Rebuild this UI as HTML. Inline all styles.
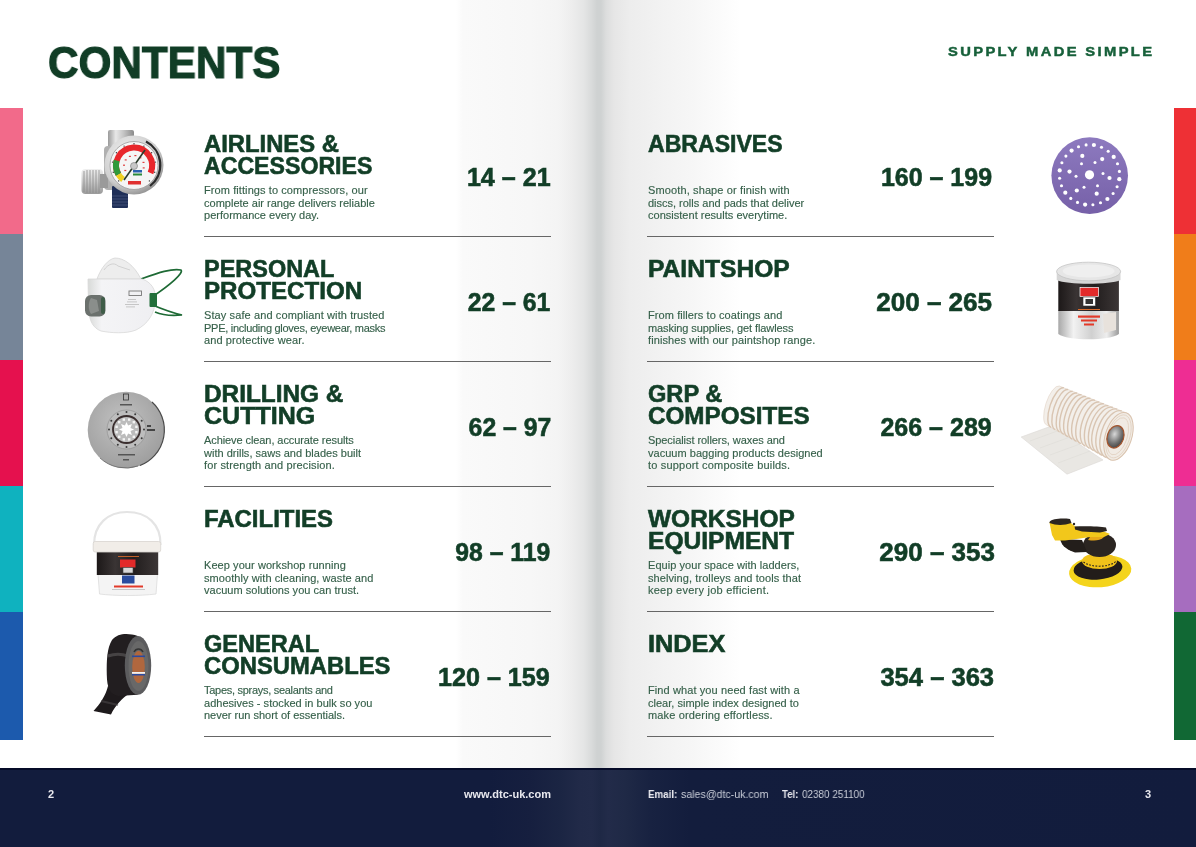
<!DOCTYPE html>
<html><head><meta charset="utf-8"><title>Contents</title>
<style>
*{margin:0;padding:0;box-sizing:border-box}
html,body{width:1196px;height:847px;overflow:hidden;background:#fff}
body{position:relative;font-family:"Liberation Sans",sans-serif;color:#123e27}
.spine{position:absolute;left:0;top:0;width:1196px;height:768px;background:linear-gradient(90deg,#fff 0,#fff 456px,#fafafa 463px,#f7f7f7 530px,#f4f4f4 558px,#ededed 572px,#e4e5e5 584px,#d8dada 592px,#cfd2d2 597px,#cfd2d2 601px,#dcdddd 606px,#e6e6e6 614px,#ededed 630px,#f1f1f1 655px,#f6f6f6 690px,#fbfbfb 720px,#fff 740px)}
.bar{position:absolute;width:23px}
.L{left:0}.R{left:1174px;width:22px}
h1{position:absolute;left:48px;top:38px;font-size:45px;font-weight:700;color:#113d26;letter-spacing:0;line-height:50px;transform:scaleX(.939);transform-origin:0 0;white-space:nowrap}
.tag{position:absolute;left:948px;top:44px;font-size:12.8px;font-weight:700;color:#17603a;letter-spacing:2.07px;transform:scaleX(1.15);transform-origin:0 0;line-height:15px;white-space:nowrap}
.row{position:absolute;width:347px;height:125px}
.h{position:absolute;left:0;top:1.5px;font-size:23.3px;font-weight:700;color:#123e27;line-height:22.8px;white-space:nowrap}
.d{position:absolute;left:0;top:53px;font-size:11px;color:#36604a;line-height:12.6px;letter-spacing:0.05px;white-space:nowrap}
.n{position:absolute;right:0;top:32px;font-size:25.4px;font-weight:700;color:#123e27;line-height:28px;white-space:nowrap}
.hl{white-space:nowrap;transform-origin:0 0}
.dl{white-space:nowrap}
.d{-webkit-text-stroke:.15px #36604a}
.n{transform-origin:100% 0}
.sep{position:absolute;left:0;right:0;top:105px;height:1px;background:#666}
.rr .sep{left:-1px;right:1.5px}
.foot{z-index:2;position:absolute;left:0;top:768px;width:1196px;height:79px;background:linear-gradient(90deg,#121c3d 0,#121c3d 490px,#161f3f 530px,#1b2543 560px,#212a48 580px,#222b49 592px,#1e2845 600px,#222b49 608px,#1f2946 625px,#182241 650px,#131d3d 690px,#121c3d 100%)}
.foot:before{content:"";position:absolute;left:0;top:0;width:100%;height:2px;background:#050b28}
.ft{position:absolute;top:19.8px;font-size:11px;color:#e8e8ee;line-height:12px;white-space:nowrap}
.ft b{font-weight:700}
.ft.g{color:#c9cdd8}
.img{position:absolute}
.row,h1,.tag,.ft{will-change:transform}
h1{-webkit-text-stroke:1.2px #113d26}
.h,.n{-webkit-text-stroke:.6px #123e27}
.tag{-webkit-text-stroke:.45px #17603a}
</style></head><body>
<div class="spine"></div>

<div class="bar L" style="top:108px;height:127px;background:#f26a8a"></div>
<div class="bar L" style="top:234px;height:127px;background:#768598"></div>
<div class="bar L" style="top:360px;height:127px;background:#e5114e"></div>
<div class="bar L" style="top:486px;height:127px;background:#0fb2bf"></div>
<div class="bar L" style="top:612px;height:128px;background:#1c5aad"></div>

<div class="bar R" style="top:108px;height:127px;background:#ee3035"></div>
<div class="bar R" style="top:234px;height:127px;background:#f07d1a"></div>
<div class="bar R" style="top:360px;height:127px;background:#ee2d93"></div>
<div class="bar R" style="top:486px;height:127px;background:#a66dbf"></div>
<div class="bar R" style="top:612px;height:128px;background:#116834"></div>

<h1>CONTENTS</h1>
<div class="tag">SUPPLY MADE SIMPLE</div>

<!-- LEFT COLUMN -->
<div class="row" style="left:204px;top:131px">
 <div class="h"><div class="hl" id="L0h0" style="transform:scaleX(1.0220)">AIRLINES &amp;</div><div class="hl" id="L0h1" style="transform:scaleX(0.9929)">ACCESSORIES</div></div>
 <div class="d"><div class="dl" id="L0d0" style="letter-spacing:0.087px">From fittings to compressors, our</div><div class="dl" id="L0d1" style="letter-spacing:0.007px">complete air range delivers reliable</div><div class="dl" id="L0d2" style="letter-spacing:0.017px">performance every day.</div></div>
 <div class="n" id="L0n" style="transform:translateX(-0.09px) scaleX(0.9883)">14 – 21</div><div class="sep"></div>
</div>
<div class="row" style="left:204px;top:256px">
 <div class="h"><div class="hl" id="L1h0" style="transform:scaleX(1.0070)">PERSONAL</div><div class="hl" id="L1h1" style="transform:scaleX(1.0352)">PROTECTION</div></div>
 <div class="d"><div class="dl" id="L1d0" style="letter-spacing:0.107px">Stay safe and compliant with trusted</div><div class="dl" id="L1d1" style="letter-spacing:-0.273px">PPE, including gloves, eyewear, masks</div><div class="dl" id="L1d2" style="letter-spacing:0.107px">and protective wear.</div></div>
 <div class="n" id="L1n" style="transform:translateX(-0.40px) scaleX(0.9739)">22 – 61</div><div class="sep"></div>
</div>
<div class="row" style="left:204px;top:381px">
 <div class="h"><div class="hl" id="L2h0" style="transform:scaleX(1.0462)">DRILLING &amp;</div><div class="hl" id="L2h1" style="transform:scaleX(1.0746)">CUTTING</div></div>
 <div class="d"><div class="dl" id="L2d0" style="letter-spacing:-0.083px">Achieve clean, accurate results</div><div class="dl" id="L2d1" style="letter-spacing:0.014px">with drills, saws and blades built</div><div class="dl" id="L2d2" style="letter-spacing:0.142px">for strength and precision.</div></div>
 <div class="n" id="L2n" style="transform:translateX(0.58px) scaleX(0.9759)">62 – 97</div><div class="sep"></div>
</div>
<div class="row" style="left:204px;top:506px">
 <div class="h"><div class="hl" id="L3h0" style="transform:scaleX(1.0275)">FACILITIES</div></div>
 <div class="d"><div class="dl" id="L3d0" style="letter-spacing:0.070px">Keep your workshop running</div><div class="dl" id="L3d1" style="letter-spacing:0.076px">smoothly with cleaning, waste and</div><div class="dl" id="L3d2" style="letter-spacing:0.033px">vacuum solutions you can trust.</div></div>
 <div class="n" id="L3n" style="transform:translateX(-1.13px) scaleX(0.9750)">98 – 119</div><div class="sep"></div>
</div>
<div class="row" style="left:204px;top:631px">
 <div class="h"><div class="hl" id="L4h0" style="transform:scaleX(1.0107)">GENERAL</div><div class="hl" id="L4h1" style="transform:scaleX(1.0216)">CONSUMABLES</div></div>
 <div class="d"><div class="dl" id="L4d0" style="letter-spacing:-0.284px">Tapes, sprays, sealants and</div><div class="dl" id="L4d1" style="letter-spacing:0.026px">adhesives - stocked in bulk so you</div><div class="dl" id="L4d2" style="letter-spacing:-0.005px">never run short of essentials.</div></div>
 <div class="n" id="L4n" style="transform:translateX(-1.10px) scaleX(0.9911)">120 – 159</div><div class="sep"></div>
</div>
<div class="row rr" style="left:648px;top:131px">
 <div class="h"><div class="hl" id="R0h0" style="transform:scaleX(0.9905)">ABRASIVES</div></div>
 <div class="d"><div class="dl" id="R0d0" style="letter-spacing:0.124px">Smooth, shape or finish with</div><div class="dl" id="R0d1" style="letter-spacing:-0.010px">discs, rolls and pads that deliver</div><div class="dl" id="R0d2" style="letter-spacing:0.018px">consistent results everytime.</div></div>
 <div class="n" id="R0n" style="transform:translateX(-2.91px) scaleX(0.9838)">160 – 199</div><div class="sep"></div>
</div>
<div class="row rr" style="left:648px;top:256px">
 <div class="h"><div class="hl" id="R1h0" style="transform:scaleX(1.0564)">PAINTSHOP</div></div>
 <div class="d"><div class="dl" id="R1d0" style="letter-spacing:0.083px">From fillers to coatings and</div><div class="dl" id="R1d1" style="letter-spacing:-0.087px">masking supplies, get flawless</div><div class="dl" id="R1d2" style="letter-spacing:0.102px">finishes with our paintshop range.</div></div>
 <div class="n" id="R1n" style="transform:translateX(-2.86px) scaleX(1.0262)">200 – 265</div><div class="sep"></div>
</div>
<div class="row rr" style="left:648px;top:381px">
 <div class="h"><div class="hl" id="R2h0" style="transform:scaleX(1.0139)">GRP &amp;</div><div class="hl" id="R2h1" style="transform:scaleX(1.0403)">COMPOSITES</div></div>
 <div class="d"><div class="dl" id="R2d0" style="letter-spacing:-0.068px">Specialist rollers, waxes and</div><div class="dl" id="R2d1" style="letter-spacing:0.034px">vacuum bagging products designed</div><div class="dl" id="R2d2" style="letter-spacing:0.190px">to support composite builds.</div></div>
 <div class="n" id="R2n" style="transform:translateX(-3.21px) scaleX(0.9857)">266 – 289</div><div class="sep"></div>
</div>
<div class="row rr" style="left:648px;top:506px">
 <div class="h"><div class="hl" id="R3h0" style="transform:scaleX(1.0511)">WORKSHOP</div><div class="hl" id="R3h1" style="transform:scaleX(1.0552)">EQUIPMENT</div></div>
 <div class="d"><div class="dl" id="R3d0" style="letter-spacing:0.050px">Equip your space with ladders,</div><div class="dl" id="R3d1" style="letter-spacing:0.082px">shelving, trolleys and tools that</div><div class="dl" id="R3d2" style="letter-spacing:0.237px">keep every job efficient.</div></div>
 <div class="n" id="R3n" style="transform:translateX(0.03px) scaleX(1.0243)">290 – 353</div><div class="sep"></div>
</div>
<div class="row rr" style="left:648px;top:631px">
 <div class="h"><div class="hl" id="R4h0" style="transform:scaleX(1.0857)">INDEX</div></div>
 <div class="d"><div class="dl" id="R4d0" style="letter-spacing:0.101px">Find what you need fast with a</div><div class="dl" id="R4d1" style="letter-spacing:0.017px">clear, simple index designed to</div><div class="dl" id="R4d2" style="letter-spacing:0.154px">make ordering effortless.</div></div>
 <div class="n" id="R4n" style="transform:translateX(-0.89px) scaleX(1.0062)">354 – 363</div><div class="sep"></div>
</div>
<!-- IMAGES -->
<svg class="img" style="left:0;top:0" width="1196" height="768" viewBox="0 0 1196 768">
<defs>
 <linearGradient id="chrome" x1="0" y1="0" x2="1" y2="0">
  <stop offset="0" stop-color="#9a9a9a"/><stop offset=".3" stop-color="#e8e8e8"/><stop offset=".6" stop-color="#c4c4c4"/><stop offset="1" stop-color="#8a8a8a"/>
 </linearGradient>
 <linearGradient id="chromeV" x1="0" y1="0" x2="0" y2="1">
  <stop offset="0" stop-color="#f0f0f0"/><stop offset=".5" stop-color="#c8c8c8"/><stop offset="1" stop-color="#9a9a9a"/>
 </linearGradient>
 <radialGradient id="bezel" cx=".4" cy=".35" r=".7">
  <stop offset="0" stop-color="#f4f4f4"/><stop offset=".7" stop-color="#cfcfcf"/><stop offset="1" stop-color="#8c8c8c"/>
 </radialGradient>
 <radialGradient id="blade" cx=".45" cy=".4" r=".65">
  <stop offset="0" stop-color="#c2c2c2"/><stop offset="1" stop-color="#9c9c9c"/>
 </radialGradient>
 <linearGradient id="purp" x1="0" y1="0" x2="0" y2="1">
  <stop offset="0" stop-color="#8d7abf"/><stop offset="1" stop-color="#7660a8"/>
 </linearGradient>
 <linearGradient id="silver" x1="0" y1="0" x2="1" y2="0">
  <stop offset="0" stop-color="#a8a8a8"/><stop offset=".25" stop-color="#f2f2f2"/><stop offset=".55" stop-color="#d0d0d0"/><stop offset=".8" stop-color="#eeeeee"/><stop offset="1" stop-color="#9a9a9a"/>
 </linearGradient>
 <linearGradient id="blackband" x1="0" y1="0" x2="1" y2="0">
  <stop offset="0" stop-color="#1c1818"/><stop offset=".3" stop-color="#3a3434"/><stop offset=".6" stop-color="#221e1e"/><stop offset="1" stop-color="#3c3636"/>
 </linearGradient>
 <linearGradient id="maskg" x1="0" y1="0" x2="1" y2="0">
  <stop offset="0" stop-color="#d8dad8"/><stop offset=".2" stop-color="#f4f4f6"/><stop offset="1" stop-color="#efeff2"/>
 </linearGradient>
 <radialGradient id="hole" cx=".4" cy=".4" r=".7">
  <stop offset="0" stop-color="#d8d8d8"/><stop offset=".6" stop-color="#707070"/><stop offset="1" stop-color="#3a3a3a"/>
 </radialGradient>
</defs>

<!-- 1 gauge -->
<g>
 <rect x="108" y="130" width="26" height="20" rx="2" fill="url(#chrome)"/>
 <rect x="104" y="146" width="36" height="44" rx="4" fill="#b0b0b0"/>
 <rect x="81.5" y="169" width="21.5" height="25" rx="4" fill="url(#chromeV)"/>
 <g stroke="#8c8c8c" stroke-width=".8">
  <line x1="84" y1="171" x2="84" y2="192"/><line x1="87" y1="170" x2="87" y2="193"/><line x1="90" y1="170" x2="90" y2="193"/><line x1="93" y1="170" x2="93" y2="193"/><line x1="96" y1="170" x2="96" y2="193"/><line x1="99" y1="170" x2="99" y2="193"/>
 </g>
 <rect x="100" y="174" width="8" height="14" fill="#9a9a9a"/>
 <rect x="112" y="186" width="16" height="22" rx="1" fill="#1f2f58"/>
 <g stroke="#4a5a80" stroke-width=".7"><line x1="112" y1="196" x2="128" y2="196"/><line x1="112" y1="199" x2="128" y2="199"/><line x1="112" y1="202" x2="128" y2="202"/><line x1="112" y1="205" x2="128" y2="205"/></g>
 <circle cx="134" cy="165" r="29.5" fill="url(#bezel)"/>
 <path d="M146,141.5 A26.5,26.5 0 0 1 150,186" fill="none" stroke="#2a2a2a" stroke-width="2.2"/>
 <circle cx="134" cy="165.5" r="24" fill="#f5f5f5" stroke="#9a9a9a" stroke-width=".8"/>
 <path d="M118.5,174.5 A18,18 0 1 1 150.5,173" fill="none" stroke="#e8262b" stroke-width="6"/>
 <path d="M116.6,160.5 A18,18 0 0 0 118.5,174.5" fill="none" stroke="#2f9a3a" stroke-width="6"/>
 <path d="M118.5,174.5 A18,18 0 0 0 123,179.5" fill="none" stroke="#f0d020" stroke-width="6"/>
 <g fill="#333"><circle cx="118.6" cy="180.9" r=".7"/><circle cx="113.3" cy="172.2" r=".7"/><circle cx="112.5" cy="162.1" r=".7"/><circle cx="116.4" cy="152.7" r=".7"/><circle cx="124.1" cy="146.1" r=".7"/><circle cx="134.0" cy="143.7" r=".7"/><circle cx="143.9" cy="146.1" r=".7"/><circle cx="151.6" cy="152.7" r=".7"/><circle cx="155.5" cy="162.1" r=".7"/><circle cx="154.7" cy="172.2" r=".7"/><circle cx="149.4" cy="180.9" r=".7"/><rect x="124.3" y="169.9" width="2" height="1.2" fill="#e04040"/><rect x="123.0" y="164.6" width="2" height="1.2" fill="#e04040"/><rect x="124.7" y="159.3" width="2" height="1.2" fill="#e04040"/><rect x="128.9" y="155.8" width="2" height="1.2" fill="#e04040"/><rect x="134.4" y="155.0" width="2" height="1.2" fill="#e04040"/><rect x="139.4" y="157.2" width="2" height="1.2" fill="#e04040"/><rect x="142.5" y="161.8" width="2" height="1.2" fill="#e04040"/><rect x="142.7" y="167.3" width="2" height="1.2" fill="#e04040"/></g><line x1="124" y1="180" x2="145" y2="150" stroke="#2a3a2a" stroke-width="1.6"/>
 <circle cx="134" cy="166" r="3.5" fill="#c8c8c8" stroke="#777" stroke-width=".6"/>
 <rect x="133" y="170" width="9" height="2.5" fill="#2a60b0"/>
 <rect x="133" y="173.5" width="9" height="2" fill="#2a8a3a"/>
 <rect x="128" y="181" width="13" height="3.5" fill="#e03030"/>
</g>

<!-- 2 mask -->
<g>
 <path d="M141,279 C158,273 172,268 181,270 C184,273 170,285 152,297" fill="none" stroke="#1e6a35" stroke-width="1.7"/>
 <path d="M150,304 C162,309 172,313 182,315 C172,316 162,315 155,312" fill="none" stroke="#1e6a35" stroke-width="1.7"/>
 <path d="M97,279 C101,268 108,259 115,258 C124,258 134,265 141,279 Z" fill="#ededed" stroke="#d6d6d6" stroke-width=".8"/>
 <path d="M104,270 C108,264 114,262 118,266 L130,270" fill="none" stroke="#d2d2d2" stroke-width="1"/>
 <path d="M88,279 L142,279 C151,282 156,289 155.5,300 C154.5,314 148,324 136,330 C126,334 111,333 101,331 C93,328 89.5,321 88.5,310 Z" fill="url(#maskg)" stroke="#d8d8d8" stroke-width=".8"/>
 <rect x="149.5" y="293" width="7.5" height="14" rx="1" fill="#226f3a"/>
 <rect x="129" y="291" width="12.5" height="4.5" fill="none" stroke="#777" stroke-width=".9"/>
 <g fill="#bbb"><rect x="128" y="299" width="8" height=".8"/><rect x="127" y="301.5" width="10" height=".8"/><rect x="125" y="304" width="14" height=".8"/><rect x="126" y="306.5" width="9" height=".8"/></g>
 <rect x="85" y="295" width="20.5" height="21.5" rx="6" fill="#6b716d"/>
 <path d="M91,298 L97,300 L99,311 L91,314 C88,310 88,302 91,298 Z" fill="#8a8e8b"/>
 <rect x="101" y="297" width="4" height="17" rx="2" fill="#3f5d48"/>
</g>

<!-- 3 saw blade -->
<g>
 <circle cx="126" cy="430" r="38.3" fill="url(#blade)"/>
 <path d="M152,402 A38,38 0 0 1 140,465.5" fill="none" stroke="#4a4a4a" stroke-width="1.2"/>
 <path d="M100,458 A38,38 0 0 0 138,466" fill="none" stroke="#666" stroke-width=".8"/>
 <circle cx="126.5" cy="429.5" r="19.5" fill="#bdbdbd" stroke="#8c8c8c" stroke-width=".6"/>
 <g fill="#3a3a3a">
  <circle cx="126.5" cy="412" r="1"/><circle cx="135.2" cy="414.3" r="1"/><circle cx="141.7" cy="420.8" r="1"/><circle cx="144" cy="429.5" r="1"/><circle cx="141.7" cy="438.2" r="1"/><circle cx="135.2" cy="444.7" r="1"/><circle cx="126.5" cy="447" r="1"/><circle cx="117.8" cy="444.7" r="1"/><circle cx="111.3" cy="438.2" r="1"/><circle cx="109" cy="429.5" r="1"/><circle cx="111.3" cy="420.8" r="1"/><circle cx="117.8" cy="414.3" r="1"/>
 </g>
 <circle cx="126.5" cy="429.5" r="13.5" fill="#bcbcbc" stroke="#3a2e2e" stroke-width="1.8"/>
 <rect x="135.2" y="431.0" width="2.4" height="2.4" fill="#f4f4f4"/><rect x="132.6" y="435.6" width="2.4" height="2.4" fill="#f4f4f4"/><rect x="128.0" y="438.2" width="2.4" height="2.4" fill="#f4f4f4"/><rect x="122.6" y="438.2" width="2.4" height="2.4" fill="#f4f4f4"/><rect x="118.0" y="435.6" width="2.4" height="2.4" fill="#f4f4f4"/><rect x="115.4" y="431.0" width="2.4" height="2.4" fill="#f4f4f4"/><rect x="115.4" y="425.6" width="2.4" height="2.4" fill="#f4f4f4"/><rect x="118.0" y="421.0" width="2.4" height="2.4" fill="#f4f4f4"/><rect x="122.6" y="418.4" width="2.4" height="2.4" fill="#f4f4f4"/><rect x="128.0" y="418.4" width="2.4" height="2.4" fill="#f4f4f4"/><rect x="132.6" y="421.0" width="2.4" height="2.4" fill="#f4f4f4"/><rect x="135.2" y="425.6" width="2.4" height="2.4" fill="#f4f4f4"/><polygon points="126.5,421.9 128.1,425.5 131.9,424.1 130.5,427.9 134.1,429.5 130.5,431.1 131.9,434.9 128.1,433.5 126.5,437.1 124.9,433.5 121.1,434.9 122.5,431.1 118.9,429.5 122.5,427.9 121.1,424.1 124.9,425.5" fill="#fff"/>
 <rect x="123.5" y="394" width="5" height="6" fill="none" stroke="#333" stroke-width=".8"/>
 <rect x="120" y="404" width="12" height="1.5" fill="#555"/>
 <rect x="147" y="425" width="4" height="2" fill="#444"/><rect x="147" y="429" width="8" height="2" fill="#444"/>
 <rect x="118" y="454" width="17" height="1.5" fill="#555"/><rect x="123" y="459" width="6" height="1.5" fill="#555"/>
</g>

<!-- 4 bucket -->
<g>
 <path d="M94,545 C94,524 108,512 127,512 C147,512 161,524 160.5,545" fill="none" stroke="#e4e4e4" stroke-width="2.2"/>
 <path d="M98,574 L157.5,574 L156,594 C140,596 115,596 99.5,594 Z" fill="#f4f4f4" stroke="#dcdcdc" stroke-width=".8"/>
 <rect x="96.8" y="551.5" width="61.4" height="23.5" fill="url(#blackband)"/>
 <rect x="93.2" y="541.5" width="67.5" height="10.5" rx="2" fill="#f1ede8" stroke="#d8d4cf" stroke-width=".8"/>
 <rect x="120" y="559.5" width="15.5" height="8" fill="#e22a2a"/>
 <rect x="123" y="567.5" width="10" height="5.5" fill="#d8d8d8" stroke="#444" stroke-width=".6"/>
 <rect x="122" y="575.5" width="12.5" height="8" fill="#2a4c9e"/>
 <rect x="114" y="585.5" width="29" height="2" fill="#e23a2a"/>
 <rect x="112" y="589" width="33" height=".8" fill="#bbb"/>
 <rect x="118" y="556" width="21" height="1" fill="#c0602a"/>
</g>

<!-- 5 tape -->
<g>
 <path d="M93.5,711 L111,714.5 C115,706 122,698 130,693 L108,686 C106,695 100,704 93.5,711 Z" fill="#1e1a1c"/><path d="M101,701 L118,705" stroke="#4a4648" stroke-width="2" opacity=".6"/>
 <path d="M137.7,636 C128,633 118,633 112,640 C107,648 106.5,660 106.8,675 C107,688 110,694 118,696 L137.7,694.8 Z" fill="#221e20"/>
 <path d="M108,656 C114,654 122,654 128,656" fill="none" stroke="#504c4e" stroke-width="3" opacity=".8"/>
 <ellipse cx="138" cy="665.4" rx="13.2" ry="29.4" fill="#5c5c5e"/>
 <ellipse cx="138.5" cy="666" rx="10" ry="25" fill="#686868"/>
 <ellipse cx="138.5" cy="667" rx="6.3" ry="16" fill="#b0673e"/>
 <rect x="132" y="655.5" width="13" height="1.6" fill="#2a4aa0"/>
 <rect x="132" y="672" width="13" height="1.8" fill="#f2f2f2"/>
 <rect x="132" y="674" width="13" height="1.5" fill="#2a4aa0"/>
 <path d="M134,652 C136,648 141,648 143,652" fill="none" stroke="#333" stroke-width="1.5"/>
</g>

<!-- 6 purple disc -->
<g>
 <circle cx="1089.7" cy="175.6" r="38.3" fill="url(#purp)"/>
 <g fill="#fff"><circle cx="1089.5" cy="174.8" r="4.6"/><circle cx="1093.9" cy="145.0" r="2.1"/><circle cx="1101.5" cy="147.2" r="1.55"/><circle cx="1108.2" cy="151.2" r="1.55"/><circle cx="1113.7" cy="156.9" r="2.1"/><circle cx="1117.5" cy="163.8" r="1.55"/><circle cx="1119.4" cy="171.4" r="1.55"/><circle cx="1119.3" cy="179.2" r="2.1"/><circle cx="1117.1" cy="186.8" r="1.55"/><circle cx="1113.1" cy="193.5" r="1.55"/><circle cx="1107.4" cy="199.0" r="2.1"/><circle cx="1100.5" cy="202.8" r="1.55"/><circle cx="1092.9" cy="204.7" r="1.55"/><circle cx="1085.1" cy="204.6" r="2.1"/><circle cx="1077.5" cy="202.4" r="1.55"/><circle cx="1070.8" cy="198.4" r="1.55"/><circle cx="1065.3" cy="192.7" r="2.1"/><circle cx="1061.5" cy="185.8" r="1.55"/><circle cx="1059.6" cy="178.2" r="1.55"/><circle cx="1059.7" cy="170.4" r="2.1"/><circle cx="1061.9" cy="162.8" r="1.55"/><circle cx="1065.9" cy="156.1" r="1.55"/><circle cx="1071.6" cy="150.6" r="2.1"/><circle cx="1078.5" cy="146.8" r="1.55"/><circle cx="1086.1" cy="144.9" r="1.55"/><circle cx="1109.5" cy="178.0" r="2.1"/><circle cx="1096.7" cy="193.7" r="2.1"/><circle cx="1076.8" cy="190.5" r="2.1"/><circle cx="1069.5" cy="171.6" r="2.1"/><circle cx="1082.3" cy="155.9" r="2.1"/><circle cx="1102.2" cy="159.1" r="2.1"/><circle cx="1103.0" cy="173.4" r="1.5"/><circle cx="1097.5" cy="185.8" r="1.5"/><circle cx="1084.0" cy="187.2" r="1.5"/><circle cx="1076.0" cy="176.2" r="1.5"/><circle cx="1081.5" cy="163.8" r="1.5"/><circle cx="1095.0" cy="162.4" r="1.5"/></g>
</g>

<!-- 7 tin -->
<g>
 <path d="M1058.3,310 L1118.9,310 L1118.9,334 C1110,341 1067,341 1058.3,334 Z" fill="url(#silver)"/>
 <rect x="1058.3" y="278" width="60.6" height="33" fill="url(#blackband)"/>
 <path d="M1056.7,271 L1120.5,271 L1120.5,280 C1110,285 1067,285 1056.7,280 Z" fill="#d6d6d6"/>
 <ellipse cx="1088.6" cy="271.5" rx="32" ry="9.3" fill="#e6e6e6" stroke="#c4c4c4" stroke-width=".8"/>
 <ellipse cx="1088.6" cy="271" rx="26" ry="6.5" fill="#efefef"/>
 <rect x="1080" y="287.5" width="18.5" height="9" fill="#e22a2a" stroke="#fff" stroke-width=".7"/>
 <rect x="1083" y="297" width="12.5" height="9" fill="#fff" stroke="#333" stroke-width=".6"/>
 <rect x="1085.5" y="299" width="7.5" height="5" fill="#333"/>
 <rect x="1078" y="309" width="22" height="1" fill="#d86a2a"/>
 <rect x="1078" y="315.5" width="22" height="2.2" fill="#e23a2a"/>
 <rect x="1081" y="319.5" width="16" height="2" fill="#e23a2a"/>
 <rect x="1084" y="323.5" width="10" height="2" fill="#e23a2a"/>
 <path d="M1103,314 L1116,312 L1116,330 L1104,333 Z" fill="#e8e2dc"/>
</g>

<!-- 8 GRP roll -->
<g>
 <polygon points="1021.2,437 1052,425.8 1103,460 1067,474.2" fill="#e9e7e3" stroke="#dcd9d5" stroke-width=".6"/>
 <g stroke="#dedbd6" stroke-width=".6"><line x1="1030" y1="441" x2="1060" y2="430"/><line x1="1040" y1="448" x2="1070" y2="437"/><line x1="1050" y1="455" x2="1080" y2="444"/><line x1="1058" y1="463" x2="1090" y2="451"/></g>
 <path d="M1059.3,386.0 L1126.2,412.8 L1110.8,460.0 L1046.7,425.0 A7.5,20.5 18 0 1 1059.3,386.0 Z" fill="#f3efea" stroke="#e0d2c4" stroke-width=".6"/>
 <g fill="none" stroke="#d9c5b2" stroke-width="1.4"><path d="M1063.8,387.8 A7.9,20.8 18 0 0 1050.9,427.3"/><path d="M1068.2,389.6 A8.3,21.1 18 0 0 1055.2,429.7"/><path d="M1072.7,391.4 A8.6,21.4 18 0 0 1059.5,432.0"/><path d="M1077.2,393.2 A9.0,21.6 18 0 0 1063.8,434.3"/><path d="M1081.6,394.9 A9.4,21.9 18 0 0 1068.1,436.7"/><path d="M1086.1,396.7 A9.8,22.2 18 0 0 1072.3,439.0"/><path d="M1090.5,398.5 A10.2,22.5 18 0 0 1076.6,441.3"/><path d="M1095.0,400.3 A10.5,22.8 18 0 0 1080.9,443.7"/><path d="M1099.4,402.1 A10.9,23.1 18 0 0 1085.2,446.0"/><path d="M1103.9,403.9 A11.3,23.4 18 0 0 1089.4,448.3"/><path d="M1108.3,405.7 A11.7,23.7 18 0 0 1093.7,450.7"/><path d="M1112.8,407.5 A12.1,23.9 18 0 0 1098.0,453.0"/><path d="M1117.3,409.2 A12.4,24.2 18 0 0 1102.3,455.3"/><path d="M1121.7,411.0 A12.8,24.5 18 0 0 1106.6,457.7"/></g>
 <ellipse cx="1118.5" cy="436.4" rx="13.2" ry="24.8" transform="rotate(18 1118.5 436.4)" fill="#f1ebe4" stroke="#d9c3ae" stroke-width="1"/>
 <ellipse cx="1118.5" cy="436.4" rx="11.2" ry="22.3" transform="rotate(18 1118.5 436.4)" fill="none" stroke="#e2d2c2" stroke-width=".8"/>
 <ellipse cx="1118.0" cy="436.4" rx="9.2" ry="19.3" transform="rotate(18 1118.5 436.4)" fill="none" stroke="#e2d2c2" stroke-width=".8"/>
 <ellipse cx="1115.5" cy="436.8" rx="8.2" ry="11.5" transform="rotate(18 1115.5 436.8)" fill="url(#hole)" stroke="#a4552e" stroke-width="1.2"/>
</g>
<!-- 9 sander -->
<g>
 <ellipse cx="1100.2" cy="571.2" rx="31.2" ry="16" transform="rotate(-5 1100.2 571.2)" fill="#f4d41c"/>
 <ellipse cx="1098" cy="568.5" rx="24.5" ry="11" transform="rotate(-5 1098 568.5)" fill="#221d1a"/>
 <ellipse cx="1099.5" cy="561" rx="17.5" ry="8" fill="#f0c21a"/>
 <path d="M1083.5,562 C1090,567.5 1109,568 1116.5,561" fill="none" stroke="#2a231f" stroke-width="1.1" stroke-dasharray="1.8 1.4"/>
 <ellipse cx="1099.5" cy="545" rx="16.5" ry="12" fill="#2b2521"/>
 <path d="M1060,539 L1082,540 L1087,552 L1075,552.5 C1068,550 1062,547 1060,539 Z" fill="#231e1b"/>
 <path d="M1049.5,522.5 L1071,523 L1075,526.5 L1100,530 L1110,534 L1104,537 L1090,537 L1080,538.5 L1065,540.5 L1055,540.5 L1052,535 Z" fill="#f2c71b"/>
 <path d="M1090,537 L1104,537 C1100,541 1094,541 1088,540 Z" fill="#e8a818"/>
 <path d="M1049.5,522 C1052,518.5 1062,518 1070,519 L1071.5,523 C1064,525.5 1056,525.5 1049.5,523 Z" fill="#2b2521"/>
 <path d="M1074.6,526.6 C1085,526 1100,526.5 1106,527.6 L1107,531 L1100,532.6 L1082,531.6 L1075,529.6 Z" fill="#2b2521"/>
 <circle cx="1074" cy="524" r="1.2" fill="#2b2521"/>
</g>
</svg>


<div class="foot">
 <div class="ft" style="left:47.5px"><b>2</b></div>
 <div class="ft" style="left:464px"><b>www.dtc-uk.com</b></div>
 <div class="ft" style="left:647.5px;transform:scaleX(.89);transform-origin:0 0"><b>Email:</b></div>
 <div class="ft g" style="left:680.5px;transform:scaleX(.965);transform-origin:0 0">sales@dtc-uk.com</div>
 <div class="ft" style="left:782px;transform:scaleX(.875);transform-origin:0 0"><b>Tel:</b></div>
 <div class="ft g" style="left:801.5px;transform:scaleX(.9);transform-origin:0 0">02380 251100</div>
 <div class="ft" style="left:1144.5px"><b>3</b></div>
</div>
</body></html>
